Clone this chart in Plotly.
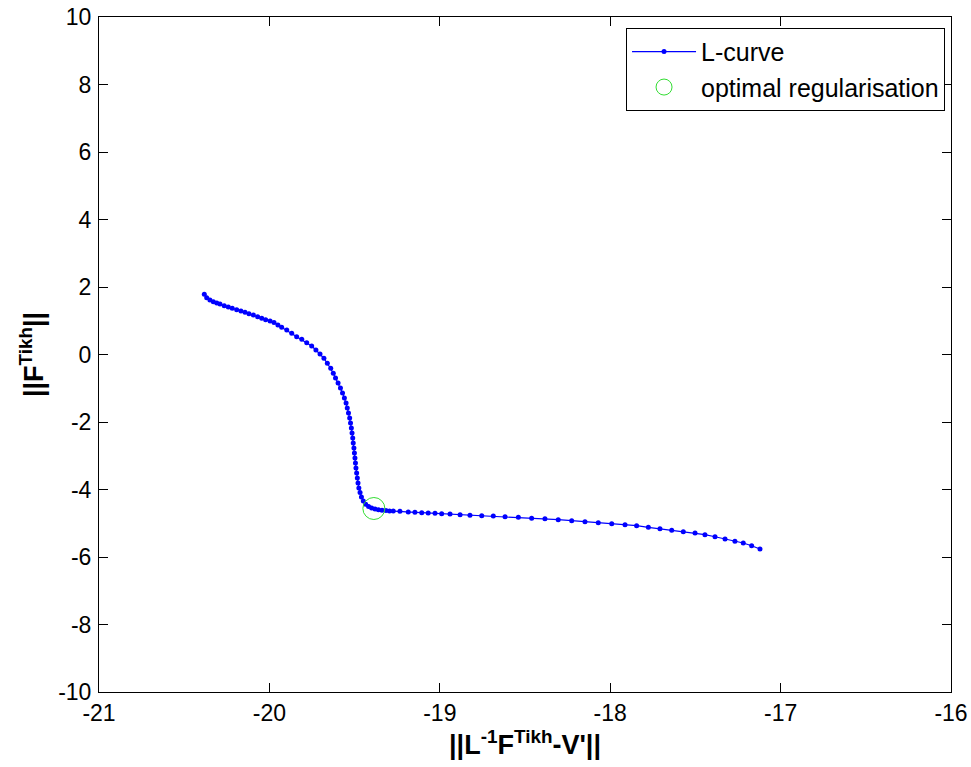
import plotly.graph_objects as go

# L-curve points
curve_x = [
    -20.382, -20.368, -20.349, -20.329, -20.309, -20.290, -20.265, -20.241, -20.218, -20.192,
    -20.167, -20.143, -20.120, -20.094, -20.069, -20.045, -20.022, -19.996, -19.973, -19.950,
    -19.928, -19.898, -19.869, -19.840, -19.810, -19.781, -19.752, -19.727, -19.703, -19.680,
    -19.660, -19.640, -19.625, -19.612, -19.597, -19.583, -19.571, -19.560, -19.550, -19.543,
    -19.536, -19.529, -19.524, -19.519, -19.515, -19.511, -19.508, -19.504, -19.501, -19.498,
    -19.495, -19.492, -19.488, -19.484, -19.480, -19.475, -19.468, -19.460, -19.449, -19.435,
    -19.418, -19.400, -19.380, -19.360, -19.339, -19.316, -19.295,
    -19.273, -19.234, -19.185, -19.146, -19.106, -19.068, -19.028, -18.989, -18.940, -18.881,
    -18.823, -18.754, -18.686, -18.617, -18.539, -18.461, -18.383, -18.305, -18.226, -18.148,
    -18.070, -17.991, -17.913, -17.845, -17.776, -17.708, -17.639, -17.571, -17.502, -17.444,
    -17.385, -17.326, -17.268, -17.219, -17.170, -17.121,
]
curve_y = [
    1.784, 1.683, 1.615, 1.564, 1.526, 1.496, 1.446, 1.407, 1.369, 1.327,
    1.289, 1.250, 1.209, 1.170, 1.120, 1.073, 1.031, 0.993, 0.948, 0.874,
    0.806, 0.726, 0.628, 0.527, 0.450, 0.350, 0.252, 0.133, 0.015, -0.113,
    -0.261, -0.409, -0.557, -0.696, -0.844, -0.993, -1.141, -1.289, -1.437, -1.585,
    -1.733, -1.881, -2.030, -2.178, -2.326, -2.474, -2.622, -2.770, -2.919, -3.067,
    -3.215, -3.363, -3.511, -3.659, -3.807, -3.956, -4.089, -4.222, -4.341, -4.439,
    -4.504, -4.548, -4.578, -4.599, -4.613, -4.625, -4.634,
    -4.637, -4.646, -4.667, -4.676, -4.687, -4.696, -4.705, -4.717, -4.726, -4.747,
    -4.764, -4.776, -4.785, -4.806, -4.824, -4.853, -4.865, -4.895, -4.924, -4.954,
    -4.984, -5.013, -5.043, -5.073, -5.120, -5.161, -5.209, -5.250, -5.289, -5.339,
    -5.399, -5.467, -5.535, -5.585, -5.665, -5.763,
]

# optimal regularisation point
opt_x = [-19.387]
opt_y = [-4.563]

x_ticks = [-21, -20, -19, -18, -17, -16]
y_ticks = [-10, -8, -6, -4, -2, 0, 2, 4, 6, 8, 10]

FONT = "Liberation Sans, Arial, sans-serif"

fig = go.Figure()
fig.add_trace(go.Scatter(
    x=curve_x, y=curve_y, mode="lines+markers", name="L-curve",
    line=dict(color="#0000ff", width=1.2),
    marker=dict(color="#0000ff", size=5, symbol="circle"),
))
fig.add_trace(go.Scatter(
    x=opt_x, y=opt_y, mode="markers", name="optimal regularisation",
    marker=dict(symbol="circle-open", size=22, color="#33dd33", line=dict(width=1, color="#33dd33")),
))

axis_common = dict(
    showline=True, linecolor="black", linewidth=1, mirror="ticks",
    ticks="inside", ticklen=9, tickcolor="black", tickwidth=1,
    showgrid=False, zeroline=False, automargin=False,
    ticklabeloverflow="allow",
    tickfont=dict(family=FONT, size=23, color="black"),
)

fig.update_layout(
    width=971, height=767,
    margin=dict(l=99, r=20, t=17, b=75, autoexpand=False),
    paper_bgcolor="white", plot_bgcolor="white",
    font=dict(family=FONT, color="black"),
    xaxis=dict(
        range=[-21, -16], tickvals=x_ticks, ticktext=[str(v) for v in x_ticks],
        title=dict(text="<b>||L<sup>-1</sup>F<sup>Tikh</sup>-V'||</b>",
                   font=dict(size=27, family=FONT), standoff=4),
        ticklabelstandoff=0,
        **axis_common,
    ),
    yaxis=dict(
        range=[-10, 10], tickvals=y_ticks, ticktext=[str(v) for v in y_ticks],
        title=dict(text="<b>||F<sup>Tikh</sup>||</b>",
                   font=dict(size=27, family=FONT), standoff=6),
        ticklabelstandoff=2,
        **axis_common,
    ),
    legend=dict(
        x=0.993, y=0.984, xanchor="right", yanchor="top",
        bgcolor="white", bordercolor="black", borderwidth=1,
        font=dict(size=25, family=FONT, color="black"),
        itemwidth=64, tracegroupgap=0,
    ),
    showlegend=True,
)

fig.write_html(
    "out.html",
    config={"displayModeBar": False},
    post_script="document.body.style.margin='0';document.body.style.overflow='hidden';",
)
